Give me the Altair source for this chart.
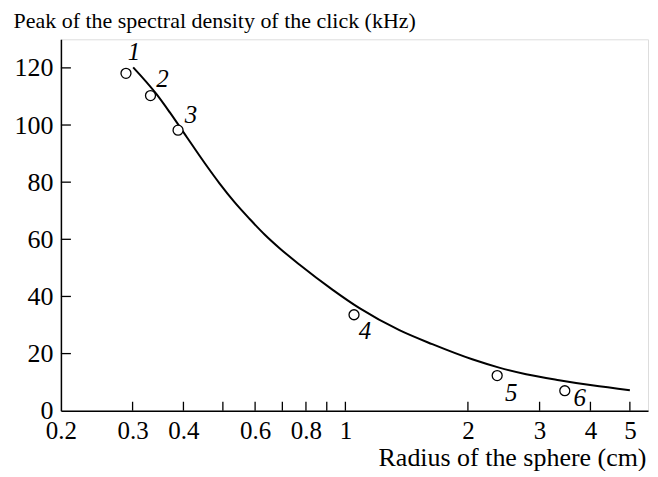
import altair as alt
import pandas as pd

# measured points (radius cm, peak kHz)
pt_x = [0.289, 0.332, 0.388, 1.05, 2.36, 3.46]
pt_y = [118.1, 110.3, 98.2, 33.6, 12.3, 7.0]
pt_lab = ["1", "2", "3", "4", "5", "6"]
lab_dx = [8, 12, 13, 11, 14, 15]
lab_dy = [-21, -17, -15, 16, 17, 7]

# fitted curve
cv_x = [0.301, 0.3435, 0.370, 0.4075, 0.451, 0.491, 0.534, 0.582, 0.633, 0.689, 0.772,
        0.929, 1.083, 1.357, 1.635, 2.049, 2.386, 2.780, 3.350, 4.037, 5.0]
cv_y = [120.2, 110.8, 104.5, 95.8, 86.7, 79.5, 73.0, 67.1, 61.7, 56.9, 51.1,
        42.4, 35.9, 28.2, 23.3, 18.0, 15.1, 12.8, 10.7, 8.9, 7.2]

x_ticks = [0.3, 0.4, 0.5, 0.6, 0.7, 0.8, 0.9, 1, 2, 3, 4, 5]
x_labels = [0.2, 0.3, 0.4, 0.6, 0.8, 1, 2, 3, 4, 5]
y_ticks = [0, 20, 40, 60, 80, 100, 120]

FONT = "Liberation Serif"
W, H = 588, 372

xs = alt.Scale(type="log", domain=[0.2, 5.54], nice=False)
ys = alt.Scale(domain=[0, 130], nice=False, zero=False)

pts = pd.DataFrame({"x": pt_x, "y": pt_y, "lab": pt_lab})
cv = pd.DataFrame({"x": cv_x, "y": cv_y})

xaxis = alt.Axis(values=x_labels, labelExpr="format(datum.value, '~g')", ticks=False,
                 grid=False, labelFont=FONT, labelFontSize=25, labelColor="black",
                 labelPadding=8, labelBaseline="top", domainColor="black", domainWidth=1.5,
                 title="Radius of the sphere (cm)", titleFont=FONT, titleFontSize=26,
                 titleFontWeight="normal", titleColor="black", titleAlign="right",
                 titleAnchor="end", titleX=W - 2, titleY=55, titleBaseline="alphabetic",
                 labelFlush=False, labelOverlap=False)
yaxis = alt.Axis(values=y_ticks, ticks=False, grid=False, labelFont=FONT, labelFontSize=26,
                 labelColor="black", labelPadding=8, domainColor="black", domainWidth=1.5,
                 title="Peak of the spectral density of the click (kHz)", titleFont=FONT,
                 titleFontSize=22, titleFontWeight="normal", titleColor="black",
                 titleAngle=0, titleAlign="left", titleAnchor="start", titleX=-48,
                 titleY=-12, titleBaseline="alphabetic", labelFlush=False, labelOverlap=False)

curve = alt.Chart(cv).mark_line(color="black", strokeWidth=2, interpolate="monotone").encode(
    x=alt.X("x:Q", scale=xs, axis=xaxis),
    y=alt.Y("y:Q", scale=ys, axis=yaxis),
)

circles = alt.Chart(pts).mark_point(shape="circle", size=100, filled=True, fill="white",
                                     stroke="black", strokeWidth=1.3, opacity=1).encode(
    x=alt.X("x:Q", scale=xs), y=alt.Y("y:Q", scale=ys))

labels = []
for i in range(len(pt_lab)):
    d = pts.iloc[[i]]
    labels.append(alt.Chart(d).mark_text(font=FONT, fontSize=25, fontStyle="italic",
                                         color="black", dx=lab_dx[i], dy=lab_dy[i]).encode(
        x=alt.X("x:Q", scale=xs), y=alt.Y("y:Q", scale=ys), text="lab:N"))

xt = pd.DataFrame({"v": x_ticks})
xtick = alt.Chart(xt).mark_rule(color="black", strokeWidth=1.3).encode(
    x=alt.X("v:Q", scale=xs), y=alt.value(H), y2=alt.value(H - 9))
yt = pd.DataFrame({"v": y_ticks[1:]})
ytick = alt.Chart(yt).mark_rule(color="black", strokeWidth=1.3).encode(
    y=alt.Y("v:Q", scale=ys), x=alt.value(0), x2=alt.value(10))

chart = alt.layer(xtick, ytick, curve, circles, *labels).properties(
    width=W, height=H,
    autosize=alt.AutoSizeParams(type="none"),
    padding={"left": 53, "top": 31, "right": 2, "bottom": 60},
).configure_view(stroke=None).configure(background="white")

chart.save("out.html", embed_options={"renderer": "svg", "actions": False})
